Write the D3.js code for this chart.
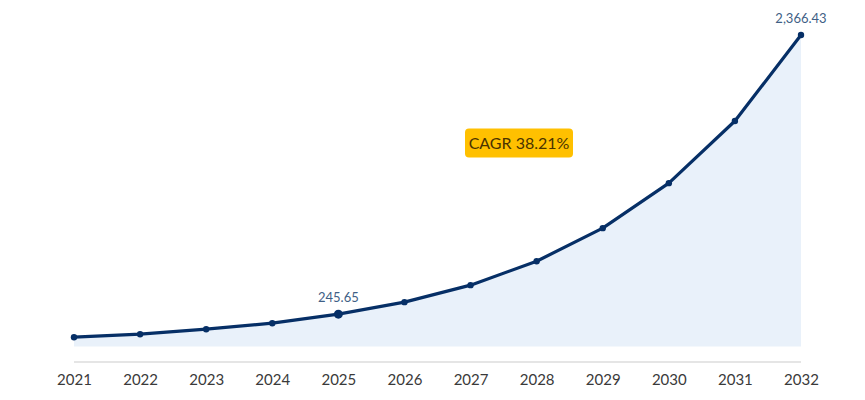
<!DOCTYPE html>
<html lang="en">
<head>
<meta charset="utf-8">
<title>Market Growth Line</title>
<script src="https://cdn.jsdelivr.net/npm/d3@7"></script>
<style>
  body { margin: 0; background: #fff; }
  svg { display: block; font-family: "Lato", "Open Sans", sans-serif; }
</style>
</head>
<body>
<div id="chart"></div>
<script>
// values
let years = ["2021", "2022", "2023", "2024", "2025", "2026", "2027", "2028", "2029", "2030", "2031", "2032"]
let values = [70.7, 93.5, 131.5, 177, 245.65, 337, 466, 648, 899, 1241, 1713, 2366.43]
let labelled = ["2025", "2032"]
let labelText = ["245.65", "2,366.43"]
let cagrText = "CAGR 38.21%"

let w = 865
let h = 400

let svg = d3.select("#chart")
  .append("svg")
  .attr("width", w)
  .attr("height", h);

let x = d3.scalePoint()
  .domain(years)
  .range([74, 801]);

let y = d3.scaleLinear()
  .domain([0, 2366.43])
  .range([346.5, 35]);

let data = years.map(function(d, i) { return { year: d, value: values[i] }; });

// area under the curve
let area = d3.area()
  .x(function(d) { return x(d.year); })
  .y0(y(0))
  .y1(function(d) { return y(d.value); });

svg.append("path")
  .datum(data)
  .attr("d", area)
  .attr("fill", "#e9f1fa");

// x axis: a plain gray rule with year labels below
let xAxis = svg.append("g")
  .attr("transform", "translate(0,362)")
  .call(d3.axisBottom(x).tickSize(0).tickPadding(12));

xAxis.select(".domain")
  .attr("d", "M" + x(years[0]) + ",0H" + x(years[years.length - 1]))
  .attr("stroke", "#dcdcdc")
  .attr("stroke-width", 1.5);

xAxis.selectAll("text")
  .attr("font-size", 15)
  .attr("font-family", "Lato, 'Open Sans', sans-serif")
  .attr("fill", "#3a3a3a");

let line = d3.line()
  .x(function(d) { return x(d.year); })
  .y(function(d) { return y(d.value); });

svg.append("path")
  .datum(data)
  .attr("d", line)
  .attr("fill", "none")
  .attr("stroke", "#062f66")
  .attr("stroke-width", 3.2)
  .attr("stroke-linejoin", "round");

svg.selectAll(".pt")
  .data(data)
  .enter()
  .append("circle")
  .attr("class", "pt")
  .attr("cx", function(d) { return x(d.year); })
  .attr("cy", function(d) { return y(d.value); })
  .attr("r", function(d) { return d.year == "2025" ? 4.5 : 3.2; })
  .attr("fill", "#062f66");

// value labels
svg.selectAll(".lbl")
  .data(data.filter(function(d) { return labelled.indexOf(d.year) >= 0; }))
  .enter()
  .append("text")
  .attr("class", "lbl")
  .attr("x", function(d) { return x(d.year); })
  .attr("y", function(d) { return y(d.value) - 12; })
  .attr("text-anchor", "middle")
  .attr("font-size", 13)
  .attr("fill", "#3f5f86")
  .text(function(d) { return labelText[labelled.indexOf(d.year)]; });

// CAGR badge
let badge = svg.append("g").attr("transform", "translate(519,143)");
badge.append("rect")
  .attr("x", -54)
  .attr("y", -14.5)
  .attr("width", 108)
  .attr("height", 29)
  .attr("rx", 4)
  .attr("fill", "#ffc000");
badge.append("text")
  .attr("text-anchor", "middle")
  .attr("dy", "0.35em")
  .attr("font-size", 16)
  .attr("fill", "#4a3300")
  .text(cagrText);
</script>
</body>
</html>
